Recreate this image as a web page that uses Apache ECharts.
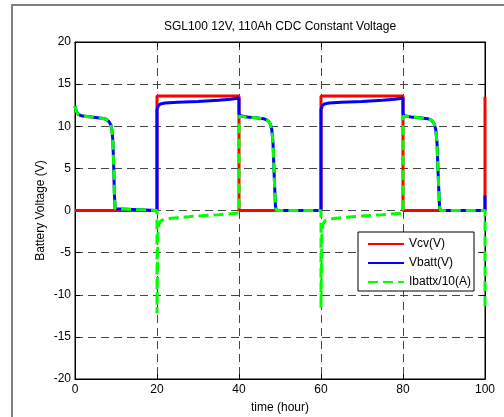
<!DOCTYPE html>
<html>
<head>
<meta charset="utf-8">
<title>SGL100 12V, 110Ah CDC Constant Voltage</title>
<script src="https://cdn.jsdelivr.net/npm/echarts@6/dist/echarts.min.js"></script>
<style>
  html, body { margin: 0; padding: 0; background: #fff; }
  #chart-box { width: 504px; height: 417px; }
</style>
</head>
<body>
<div id="chart-box"></div>
<script>
// ---------- 数据（从图上读出的 [时间(h), 数值]） ----------
const vcvData = [
    [0, 0], [20, 0], [20, 13.6], [40, 13.6], [40, 0], [60, 0],
    [60, 13.6], [80, 13.6], [80, 0], [100, 0], [100, 13.5]
];

const vbattData = [
    [0, 12.4], [0.3, 11.8], [0.8, 11.4], [1.5, 11.25], [3, 11.15], [5, 11.05], [6.5, 10.95],
    [7.5, 10.85], [8.2, 10.6], [8.7, 10.2], [9.0, 9.6], [9.2, 8.5], [9.4, 6.0], [9.6, 2.0],
    [9.8, 0.2], [10, 0], [20, 0],
    [20, 12.0], [20.3, 12.4], [20.8, 12.65], [22, 12.75], [25, 12.85], [30, 12.95], [35, 13.1],
    [38, 13.2], [40, 13.35], [40, 11.5],
    [40.3, 11.25], [42, 11.1], [44, 11.0], [46, 10.9], [47, 10.7], [47.6, 10.3], [48, 9.6],
    [48.3, 8.0], [48.6, 4.0], [48.9, 0.5], [49.1, 0], [60, 0],
    [60, 12.0], [60.3, 12.4], [60.8, 12.65], [62, 12.75], [65, 12.85], [70, 12.95], [75, 13.1],
    [78, 13.2], [80, 13.35], [80, 11.5],
    [80.3, 11.25], [82, 11.1], [84, 11.0], [86, 10.9], [87, 10.7], [87.6, 10.3], [88, 9.6],
    [88.3, 8.0], [88.6, 4.0], [88.9, 0.5], [89.1, 0], [100, 0], [100, 1.8]
];

const ibattData = [
    [0, 12.4], [0.3, 11.8], [0.8, 11.4], [1.5, 11.25], [3, 11.15], [5, 11.05], [6.5, 10.95],
    [7.5, 10.85], [8.2, 10.6], [8.7, 10.2], [9.0, 9.6], [9.2, 8.5], [9.4, 6.0], [9.6, 2.0],
    [9.8, 0.2], [10, 0], [20, 0],
    [20, -12.2], [20.2, -3.0], [20.5, -1.6], [21, -1.2], [22, -1.0], [25, -0.85], [30, -0.65],
    [35, -0.5], [40, -0.3], [40, 11.2],
    [40.3, 11.15], [42, 11.1], [44, 11.0], [46, 10.9], [47, 10.7], [47.6, 10.3], [48, 9.6],
    [48.3, 8.0], [48.6, 4.0], [48.9, 0.5], [49.1, 0], [60, 0],
    [60, -11.6], [60.2, -3.0], [60.5, -1.6], [61, -1.2], [62, -1.0], [65, -0.85], [70, -0.65],
    [75, -0.5], [80, -0.3], [80, 11.2],
    [80.3, 11.15], [82, 11.1], [84, 11.0], [86, 10.9], [87, 10.7], [87.6, 10.3], [88, 9.6],
    [88.3, 8.0], [88.6, 4.0], [88.9, 0.5], [89.1, 0], [100, 0], [100, -11.7]
];

const seriesNames = ['Vcv(V)', 'Vbatt(V)', 'Ibattx/10(A)'];

const FONT = '"Liberation Sans", Arial, sans-serif';

const chart = echarts.init(document.getElementById('chart-box'));

// 网格虚线
const gridDash = { show: true, lineStyle: { color: '#444', width: 1, type: [8, 5] } };

function lineSeries(name, data, color, dashed) {
    return {
        name: name, type: 'line', data: data,
        showSymbol: false, symbol: 'none', clip: false, animation: false,
        lineStyle: { color: color, width: 3, type: dashed ? [10, 5] : 'solid' },
        itemStyle: { color: color }
    };
}

const option = {
    backgroundColor: '#fff',
    animation: false,
    textStyle: { fontFamily: FONT },
    grid: { left: 75, top: 42, width: 410, height: 337, show: true, borderColor: '#000', borderWidth: 1, outerBoundsMode: 'none' },
    xAxis: [{
        type: 'value', min: 0, max: 100, interval: 20,
        name: 'time (hour)', nameLocation: 'middle', nameGap: 23, nameMoveOverlap: false,
        nameTextStyle: { fontSize: 12, color: '#000', fontFamily: FONT },
        axisLine: { show: true, onZero: false, lineStyle: { color: '#000', width: 1 } },
        axisTick: { show: true, inside: true, length: 5, lineStyle: { color: '#000' } },
        axisLabel: { fontSize: 12, color: '#000', margin: 5, fontFamily: FONT },
        splitLine: gridDash
    }, {
        type: 'value', min: 0, max: 100, interval: 20, position: 'top',
        axisLine: { show: true, onZero: false, lineStyle: { color: '#000', width: 1 } },
        axisTick: { show: true, inside: true, length: 5, lineStyle: { color: '#000' } },
        axisLabel: { show: false }, splitLine: { show: false }
    }],
    yAxis: [{
        type: 'value', min: -20, max: 20, interval: 5,
        name: 'Battery Voltage (V)', nameLocation: 'middle', nameGap: 28, nameMoveOverlap: false,
        nameTextStyle: { fontSize: 12, color: '#000', fontFamily: FONT },
        axisLine: { show: true, onZero: false, lineStyle: { color: '#000', width: 1 } },
        axisTick: { show: true, inside: true, length: 5, lineStyle: { color: '#000' } },
        axisLabel: { fontSize: 12, color: '#000', margin: 4, fontFamily: FONT },
        splitLine: gridDash
    }, {
        type: 'value', min: -20, max: 20, interval: 5, position: 'right',
        axisLine: { show: true, onZero: false, lineStyle: { color: '#000', width: 1 } },
        axisTick: { show: true, inside: true, length: 5, lineStyle: { color: '#000' } },
        axisLabel: { show: false }, splitLine: { show: false }
    }],
    legend: {
        orient: 'vertical', left: 358, top: 232,
        itemWidth: 36, itemHeight: 14, itemGap: 7,
        padding: [6, 3, 3, 9],
        backgroundColor: '#fff', borderColor: '#000', borderWidth: 1, borderRadius: 0,
        itemStyle: { opacity: 0 },
        textStyle: { fontSize: 12, color: '#000', fontFamily: FONT },
        data: seriesNames
    },
    graphic: [
        {
            type: 'rect', silent: true, z: -10,
            shape: { x: 12, y: 5, width: 600, height: 600 },
            style: { fill: 'none', stroke: '#808080', lineWidth: 2 }
        },
        {
            type: 'text', silent: true, x: 280, y: 27,
            style: { text: 'SGL100 12V, 110Ah CDC Constant Voltage', align: 'center', verticalAlign: 'middle', fill: '#000', font: '12px ' + FONT }
        }
    ],
    series: [
        lineSeries(seriesNames[0], vcvData, '#ff0000', false),
        lineSeries(seriesNames[1], vbattData, '#0000ff', false),
        lineSeries(seriesNames[2], ibattData, '#00ff00', true)
    ]
};

chart.setOption(option);
</script>
</body>
</html>
